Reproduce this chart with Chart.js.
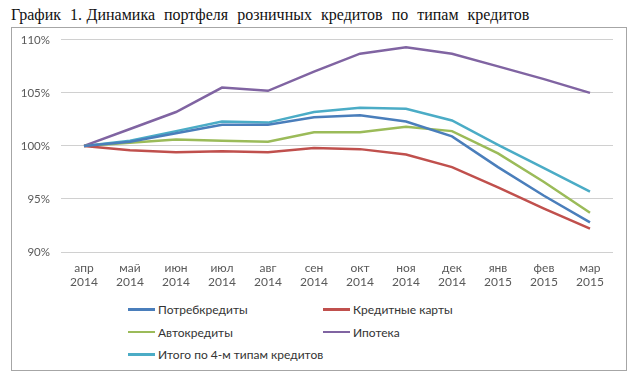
<!DOCTYPE html>
<html>
<head>
<meta charset="utf-8">
<script src="https://cdn.jsdelivr.net/npm/chart.js@4/dist/chart.umd.min.js"></script>
<style>
  body { margin: 0; background: #fff; width: 640px; height: 390px; position: relative; overflow: hidden; }
  #title {
    position: absolute; left: 11px; top: 6px;
    font-family: "Liberation Serif", "Times New Roman", serif;
    font-size: 16px; color: #111; white-space: pre; word-spacing: 0.5px;
  }
  #box {
    position: absolute; left: 11px; top: 27px; width: 614px; height: 342px;
    border: 1.5px solid #a6a6a6; background: #fff;
  }
  #wrap { position: absolute; left: 0; top: -6px; width: 614px; height: 270px; }
  #legend {
    position: absolute; left: 116px; top: 273px;
    display: grid; grid-template-columns: 195px 200px; row-gap: 6px;
    font-family: Lato, "Open Sans", sans-serif; font-size: 12px; color: #333;
  }
  .item { display: flex; align-items: center; height: 16.7px; white-space: nowrap; }
  .swatch { width: 27px; height: 2.5px; margin-right: 3px; flex: none; }
</style>
</head>
<body>
<div id="title">График  1. Динамика  портфеля  розничных  кредитов  по  типам  кредитов</div>
<div id="box">
  <div id="wrap"><canvas id="chart"></canvas></div>
  <div id="legend"></div>
</div>
<script>
const months = [["апр","2014"],["май","2014"],["июн","2014"],["июл","2014"],["авг","2014"],["сен","2014"],
                ["окт","2014"],["ноя","2014"],["дек","2014"],["янв","2015"],["фев","2015"],["мар","2015"]];

const consumer = [100, 100.4, 101.2, 102.0, 102.0, 102.7, 102.9, 102.3, 100.9, 98.0, 95.3, 92.8];
const cards = [100, 99.6, 99.4, 99.5, 99.4, 99.8, 99.7, 99.2, 98.0, 96.1, 94.1, 92.2];
const auto = [100, 100.3, 100.6, 100.5, 100.4, 101.3, 101.3, 101.8, 101.4, 99.3, 96.6, 93.7];
const mortgage = [100, 101.6, 103.2, 105.5, 105.2, 107.0, 108.7, 109.3, 108.7, 107.5, 106.3, 105.0];
const total = [100, 100.5, 101.4, 102.3, 102.2, 103.2, 103.6, 103.5, 102.4, 100.1, 97.9, 95.7];

const seriesNames = ["Потребкредиты", "Кредитные карты", "Автокредиты", "Ипотека", "Итого по 4-м типам кредитов"];
const seriesColors = ["#4a7ebb", "#c0504d", "#9bbb59", "#8064a2", "#4bacc6"];
const seriesData = [consumer, cards, auto, mortgage, total];

const fontFamily = "Lato, 'Open Sans', sans-serif";

const chart = new Chart(document.getElementById("chart"), {
    type: "line",
    data: {
        labels: months,
        datasets: seriesData.map((d, i) => ({
            label: seriesNames[i],
            data: d,
            borderColor: seriesColors[i],
            backgroundColor: seriesColors[i],
            borderWidth: 2.5,
            pointRadius: 0,
            tension: 0
        }))
    },
    options: {
        animation: false,
        responsive: true,
        maintainAspectRatio: false,
        layout: { padding: { left: 0, right: 13, top: 0, bottom: 0 } },
        plugins: {
            legend: { display: false },
            tooltip: { enabled: false }
        },
        scales: {
            x: {
                offset: true,
                afterFit: (scale) => { scale.height = 40; },
                grid: { display: false, drawTicks: false },
                border: { display: false },
                ticks: {
                    color: "#595959",
                    font: { family: fontFamily, size: 12, lineHeight: 1.2 },
                    padding: 9, maxRotation: 0, autoSkip: false
                }
            },
            y: {
                min: 90,
                max: 110,
                afterFit: (scale) => { scale.width = 49; },
                grid: { color: "#d0d0d0", lineWidth: 1, drawTicks: false },
                border: { display: false },
                ticks: {
                    stepSize: 5,
                    padding: 11,
                    color: "#595959",
                    font: { family: fontFamily, size: 11.5 },
                    callback: (v) => v + "%"
                }
            }
        }
    }
});

// legend in two columns, built from the datasets
const legendEl = document.getElementById("legend");
chart.data.datasets.forEach(ds => {
    const item = document.createElement("div");
    item.className = "item";
    const sw = document.createElement("span");
    sw.className = "swatch";
    sw.style.background = ds.borderColor;
    const txt = document.createElement("span");
    txt.textContent = ds.label;
    item.appendChild(sw);
    item.appendChild(txt);
    legendEl.appendChild(item);
});
</script>
</body>
</html>
